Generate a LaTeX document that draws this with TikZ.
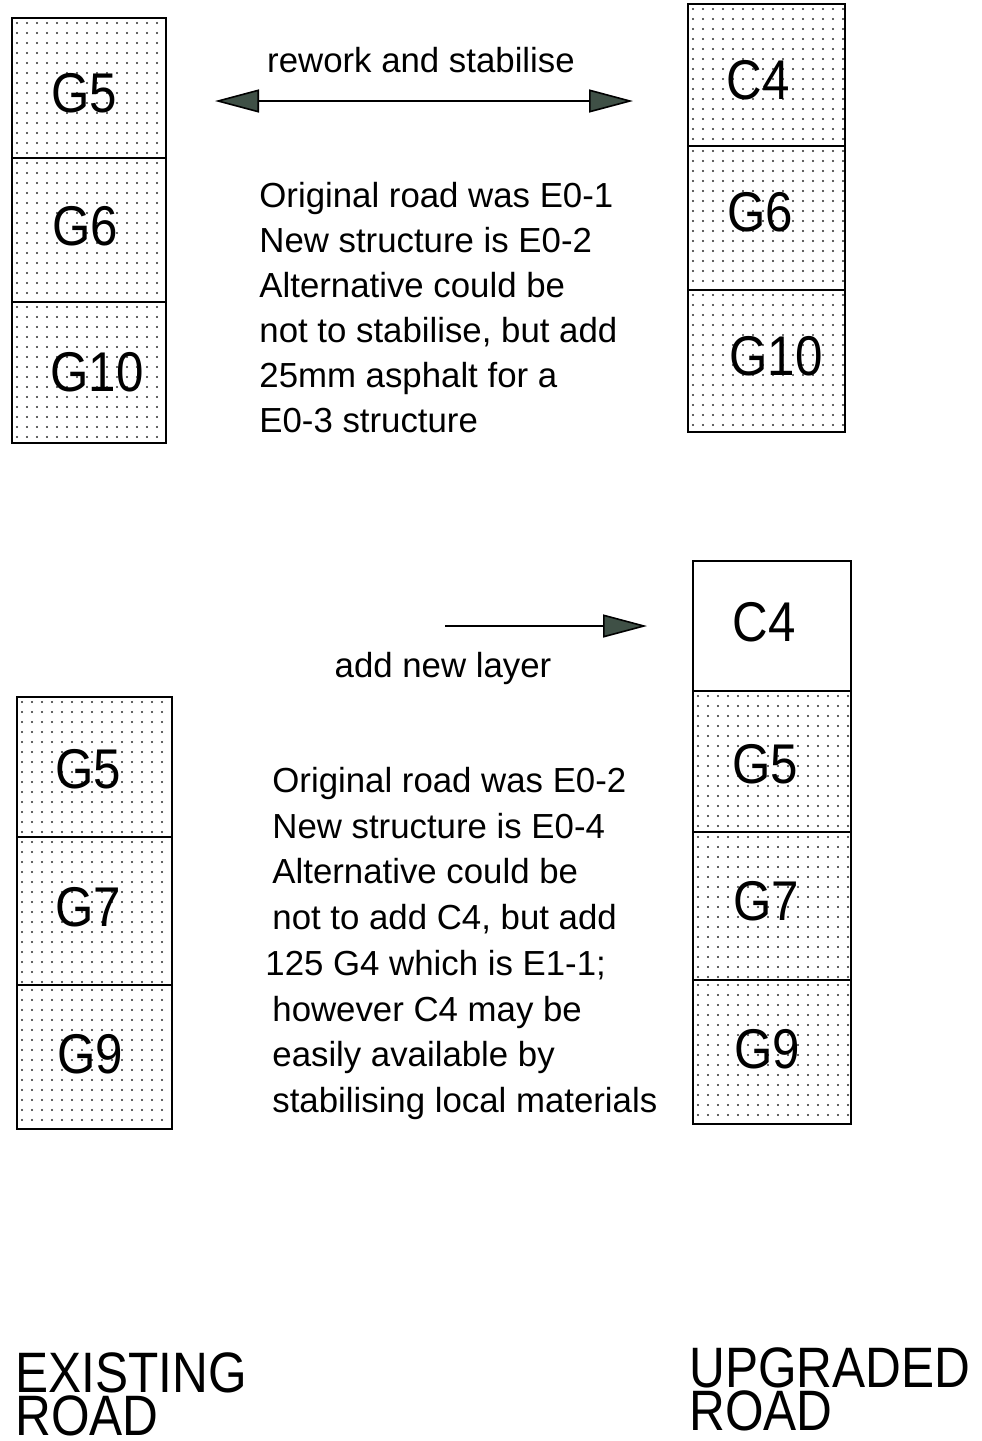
\documentclass[tikz,border=0pt]{standalone}
\usepackage{fontspec}
\setmainfont{Liberation Sans}
\usetikzlibrary{arrows.meta}
\definecolor{agreen}{HTML}{3F5046}
\definecolor{dotc}{HTML}{2A2A2A}
\newcommand\hsq[1]{\scalebox{0.88}[1]{#1}}
\tikzset{
  cellbox/.style={draw, line width=0.9pt, rectangle, inner sep=0pt, outer sep=0pt},
  dotfill/.style={path picture={
    \foreach \i in {0,...,16}{\foreach \j in {0,...,15}{
      \fill[dotc] ([shift={(5+10*\i,5+10*\j)}]path picture bounding box.north west) circle[radius=0.6pt];}}}},
  lbl/.style={font=\fontsize{28}{30}\selectfont, inner sep=0pt, anchor=center},
  txt/.style={font=\fontsize{17.4}{20}\selectfont, inner sep=0pt, anchor=base west},
  arrlabel/.style={font=\fontsize{17.4}{20}\selectfont, inner sep=0pt, anchor=base},
  big/.style={font=\fontsize{28.5}{21.5}\selectfont, inner sep=0pt, anchor=south west, align=left},
  arr/.style={line width=0.8pt, draw=black},
  mytri/.tip={Triangle[length=22pt, width=11.5pt, fill=agreen]}
}
\begin{document}
\begin{tikzpicture}[x=0.5pt, y=-0.5pt]
\useasboundingbox (0,0) rectangle (981,1441);
% top-left column
\node[cellbox, dotfill, minimum width=77pt, minimum height=70pt] (tl1) at (89,88) {};
\node[cellbox, dotfill, minimum width=77pt, minimum height=72pt] (tl2) at (89,230) {};
\node[cellbox, dotfill, minimum width=77pt, minimum height=70.5pt] (tl3) at (89,372.5) {};
\node[lbl] (tl1t) at (84,93) {\hsq{G5}};
\node[lbl] (tl2t) at (85,226) {\hsq{G6}};
\node[lbl] (tl3t) at (97,372) {\hsq{G10}};
% top-right column
\node[cellbox, dotfill, minimum width=78.5pt, minimum height=71pt] (tr1) at (766.5,75) {};
\node[cellbox, dotfill, minimum width=78.5pt, minimum height=72pt] (tr2) at (766.5,218) {};
\node[cellbox, dotfill, minimum width=78.5pt, minimum height=71pt] (tr3) at (766.5,361) {};
\node[lbl] (tr1t) at (758,80) {\hsq{C4}};
\node[lbl] (tr2t) at (760,212) {\hsq{G6}};
\node[lbl] (tr3t) at (776,356) {\hsq{G10}};
% bottom-left column
\node[cellbox, dotfill, minimum width=77.5pt, minimum height=70pt] (bl1) at (94.5,767) {};
\node[cellbox, dotfill, minimum width=77.5pt, minimum height=74pt] (bl2) at (94.5,911) {};
\node[cellbox, dotfill, minimum width=77.5pt, minimum height=72pt] (bl3) at (94.5,1057) {};
\node[lbl] (bl1t) at (88,769) {\hsq{G5}};
\node[lbl] (bl2t) at (88,907) {\hsq{G7}};
\node[lbl] (bl3t) at (90,1054) {\hsq{G9}};
% bottom-right column
\node[cellbox, minimum width=79pt, minimum height=65pt] (br1) at (772,626) {};
\node[cellbox, dotfill, minimum width=79pt, minimum height=70.5pt] (br2) at (772,761.5) {};
\node[cellbox, dotfill, minimum width=79pt, minimum height=74pt] (br3) at (772,906) {};
\node[cellbox, dotfill, minimum width=79pt, minimum height=72pt] (br4) at (772,1052) {};
\node[lbl] (br1t) at (764,622) {\hsq{C4}};
\node[lbl] (br2t) at (765,764) {\hsq{G5}};
\node[lbl] (br3t) at (766,901) {\hsq{G7}};
\node[lbl] (br4t) at (767,1049) {\hsq{G9}};
% arrows
\coordinate (a1l) at (215,101);
\coordinate (a1r) at (633,101);
\draw[arr, {mytri}-{mytri}] (a1l) -- (a1r);
\node[arrlabel] (a1t) at (421,72) {rework and stabilise};
\coordinate (a2l) at (445,626);
\coordinate (a2r) at (647,626);
\draw[arr, -{mytri}] (a2l) -- (a2r);
\node[arrlabel] (a2t) at (443,677) {add new layer};
% text block 1
\node[txt] (t11) at (259,207) {Original road was E0-1};
\node[txt] (t12) at (259,252) {New structure is E0-2};
\node[txt] (t13) at (259,297) {Alternative could be};
\node[txt] (t14) at (259,342) {not to stabilise, but add};
\node[txt] (t15) at (259,387) {25mm asphalt for a};
\node[txt] (t16) at (259,432) {E0-3 structure};
% text block 2
\node[txt] (t21) at (272,792) {Original road was E0-2};
\node[txt] (t22) at (272,838) {New structure is E0-4};
\node[txt] (t23) at (272,883) {Alternative could be};
\node[txt] (t24) at (272,929) {not to add C4, but add};
\node[txt] (t25) at (265,975) {125 G4 which is E1-1;};
\node[txt] (t26) at (272,1021) {however C4 may be};
\node[txt] (t27) at (272,1066) {easily available by};
\node[txt] (t28) at (272,1112) {stabilising local materials};
% bottom titles
\node[big] (ex) at (15,1436) {\scalebox{0.87}[1]{EXISTING}\\\scalebox{0.87}[1]{ROAD}};
\node[big] (up) at (689,1431) {\scalebox{0.87}[1]{UPGRADED}\\\scalebox{0.87}[1]{ROAD}};
\end{tikzpicture}
\end{document}
